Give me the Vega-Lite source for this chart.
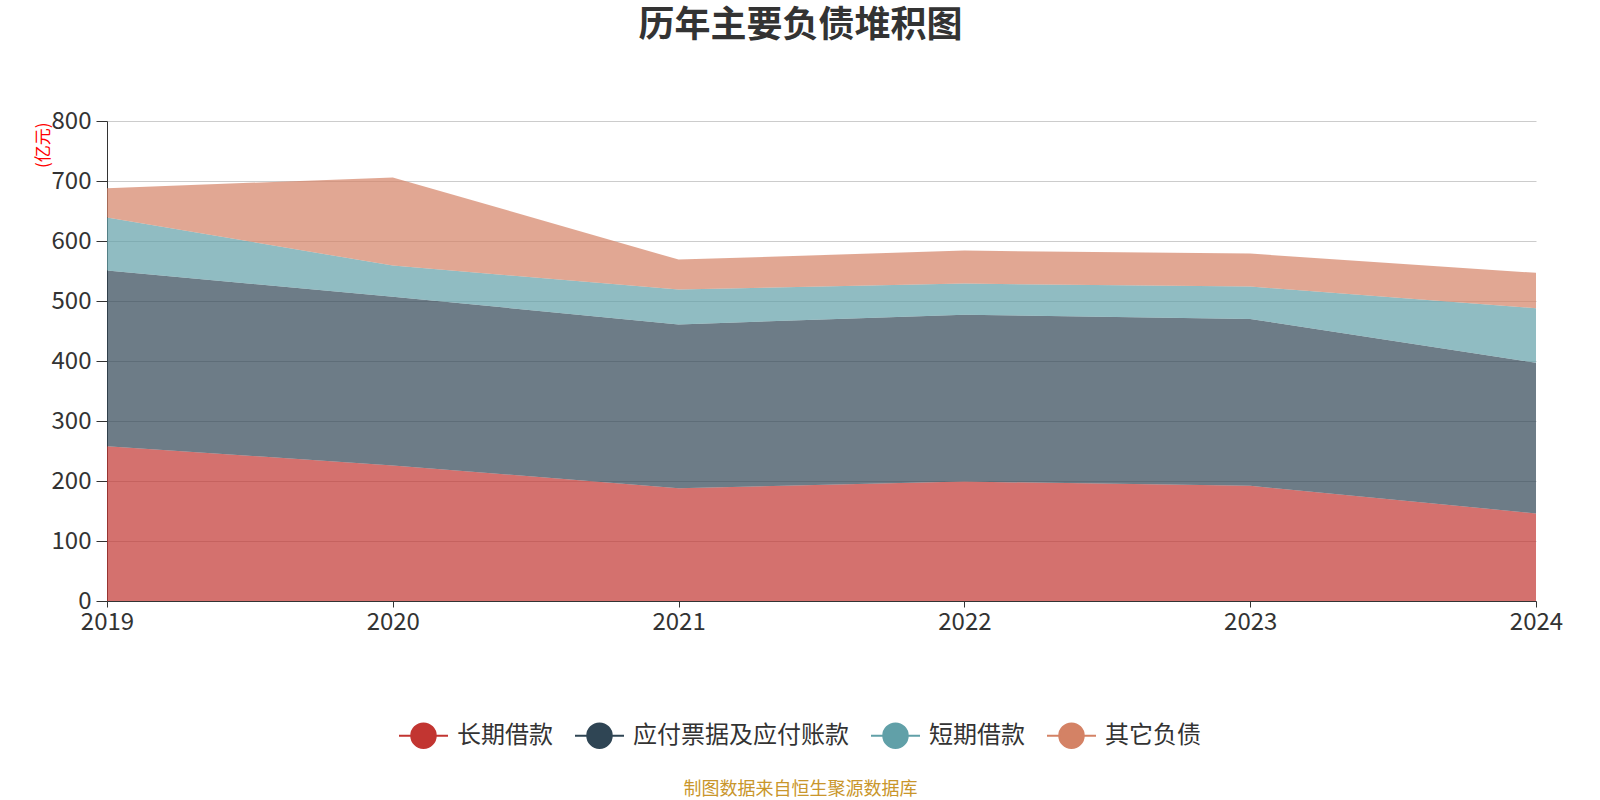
{
  "$schema": "https://vega.github.io/schema/vega-lite/v6.json",
  "description": "历年主要负债堆积图",
  "autosize": {"type": "none"},
  "width": 1429,
  "height": 480,
  "padding": {"left": 107, "top": 121, "right": 64, "bottom": 199},
  "background": "white",
  "config": {"view": {"stroke": null}, "font": "Noto Sans CJK SC"},
  "title": {
    "text": "历年主要负债堆积图",
    "fontSize": 36,
    "fontWeight": "bold",
    "color": "#333333",
    "anchor": "middle",
    "baseline": "bottom",
    "dx": -21,
    "offset": 28
  },
  "data": {
    "values": [
      {"year": "2019", "type": "长期借款", "order": 1, "value": 258},
      {"year": "2019", "type": "应付票据及应付账款", "order": 2, "value": 293},
      {"year": "2019", "type": "短期借款", "order": 3, "value": 88},
      {"year": "2019", "type": "其它负债", "order": 4, "value": 49},
      {"year": "2020", "type": "长期借款", "order": 1, "value": 226},
      {"year": "2020", "type": "应付票据及应付账款", "order": 2, "value": 281},
      {"year": "2020", "type": "短期借款", "order": 3, "value": 52},
      {"year": "2020", "type": "其它负债", "order": 4, "value": 147},
      {"year": "2021", "type": "长期借款", "order": 1, "value": 188},
      {"year": "2021", "type": "应付票据及应付账款", "order": 2, "value": 273},
      {"year": "2021", "type": "短期借款", "order": 3, "value": 58},
      {"year": "2021", "type": "其它负债", "order": 4, "value": 50},
      {"year": "2022", "type": "长期借款", "order": 1, "value": 199},
      {"year": "2022", "type": "应付票据及应付账款", "order": 2, "value": 278},
      {"year": "2022", "type": "短期借款", "order": 3, "value": 52},
      {"year": "2022", "type": "其它负债", "order": 4, "value": 55},
      {"year": "2023", "type": "长期借款", "order": 1, "value": 192},
      {"year": "2023", "type": "应付票据及应付账款", "order": 2, "value": 278},
      {"year": "2023", "type": "短期借款", "order": 3, "value": 54},
      {"year": "2023", "type": "其它负债", "order": 4, "value": 55},
      {"year": "2024", "type": "长期借款", "order": 1, "value": 146},
      {"year": "2024", "type": "应付票据及应付账款", "order": 2, "value": 251},
      {"year": "2024", "type": "短期借款", "order": 3, "value": 91},
      {"year": "2024", "type": "其它负债", "order": 4, "value": 59}
    ]
  },
  "mark": {"type": "area", "opacity": 0.7},
  "encoding": {
    "x": {
      "field": "year",
      "type": "ordinal",
      "scale": {"type": "point", "padding": 0},
      "axis": {
        "labelAngle": 0,
        "labelFontSize": 24,
        "labelColor": "#333333",
        "labelOverlap": false,
        "domainColor": "#333333",
        "tickColor": "#333333",
        "tickSize": 6,
        "labelPadding": 3,
        "grid": false,
        "title": "制图数据来自恒生聚源数据库",
        "titleX": 693,
        "titleY": 188,
        "titleAlign": "center",
        "titleBaseline": "middle",
        "titleColor": "#c9962b",
        "titleFontSize": 18,
        "titleFontWeight": "normal"
      }
    },
    "y": {
      "field": "value",
      "type": "quantitative",
      "stack": "zero",
      "scale": {"domain": [0, 800]},
      "axis": {
        "values": [0, 100, 200, 300, 400, 500, 600, 700, 800],
        "labelFontSize": 24,
        "labelColor": "#333333",
        "labelPadding": 5,
        "domainColor": "#333333",
        "tickColor": "#333333",
        "tickSize": 11,
        "gridColor": "#cccccc",
        "title": "(亿元)",
        "titleColor": "red",
        "titleFontSize": 17,
        "titleFontWeight": "normal",
        "titleAngle": -90,
        "titleX": -64,
        "titleY": 1,
        "titleAlign": "right",
        "titleBaseline": "middle"
      }
    },
    "color": {
      "field": "type",
      "type": "nominal",
      "scale": {
        "domain": ["长期借款", "应付票据及应付账款", "短期借款", "其它负债"],
        "range": ["#c23531", "#2f4554", "#61a0a8", "#d48265"]
      },
      "legend": {
        "orient": "none",
        "direction": "horizontal",
        "legendX": 291,
        "legendY": 589,
        "title": null,
        "symbolType": "M-1,0L-0.5,0M0.5,0L1,0M-0.5,0A0.5,0.5,0,1,1,0.5,0A0.5,0.5,0,1,1,-0.5,0Z",
        "symbolSize": 2401,
        "symbolStrokeWidth": 2,
        "symbolOpacity": 1,
        "labelFontSize": 24,
        "labelColor": "#333333",
        "labelOffset": 8,
        "labelLimit": 400,
        "columnPadding": 18,
        "encode": {
          "symbols": {
            "enter": {
              "stroke": {"scale": "color", "field": "value"},
              "opacity": {"value": 1}
            },
            "update": {
              "fill": {"scale": "color", "field": "value"},
              "stroke": {"scale": "color", "field": "value"},
              "opacity": {"value": 1}
            }
          }
        }
      }
    },
    "order": {"field": "order", "type": "quantitative"}
  }
}
